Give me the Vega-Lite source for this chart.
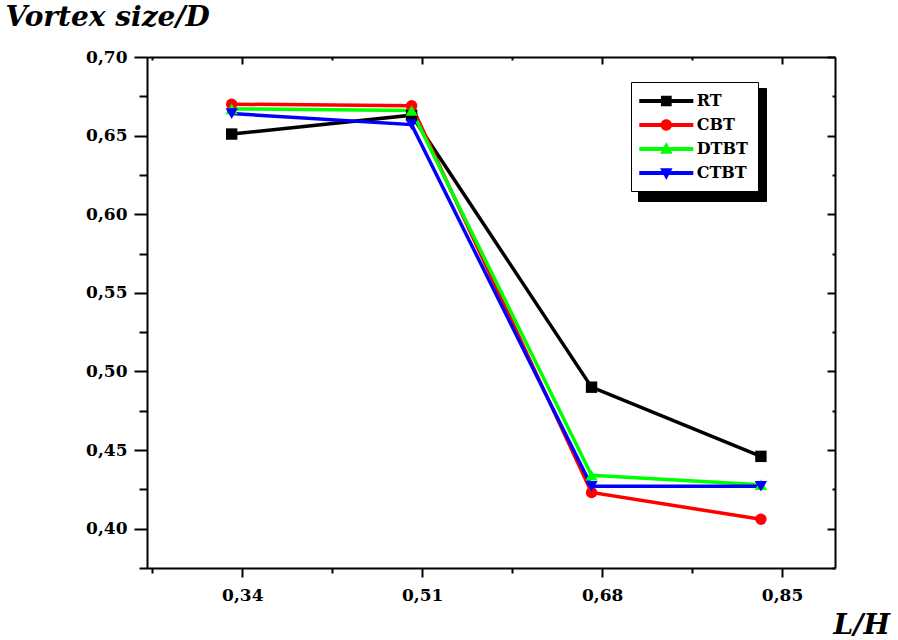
{
  "$schema": "https://vega.github.io/schema/vega-lite/v6.json",
  "width": 688,
  "height": 511,
  "autosize": {"type": "none"},
  "padding": {"left": 147, "top": 57, "right": 63, "bottom": 72},
  "background": "white",
  "config": {
    "view": {"stroke": null},
    "axis": {
      "domainColor": "black",
      "domainWidth": 2,
      "tickColor": "black",
      "tickWidth": 2,
      "grid": false,
      "labelFont": "DejaVu Serif",
      "labelFontWeight": "bold",
      "labelFontSize": 17,
      "labelColor": "black",
      "labelOverlap": false
    }
  },
  "data": {
    "values": [
      {"series": "RT", "lh": 0.33, "vs": 0.651},
      {"series": "RT", "lh": 0.50, "vs": 0.663},
      {"series": "RT", "lh": 0.67, "vs": 0.490},
      {"series": "RT", "lh": 0.83, "vs": 0.446},
      {"series": "CBT", "lh": 0.33, "vs": 0.670},
      {"series": "CBT", "lh": 0.50, "vs": 0.669},
      {"series": "CBT", "lh": 0.67, "vs": 0.423},
      {"series": "CBT", "lh": 0.83, "vs": 0.406},
      {"series": "DTBT", "lh": 0.33, "vs": 0.667},
      {"series": "DTBT", "lh": 0.50, "vs": 0.666},
      {"series": "DTBT", "lh": 0.67, "vs": 0.434},
      {"series": "DTBT", "lh": 0.83, "vs": 0.428},
      {"series": "CTBT", "lh": 0.33, "vs": 0.664},
      {"series": "CTBT", "lh": 0.50, "vs": 0.657},
      {"series": "CTBT", "lh": 0.67, "vs": 0.427},
      {"series": "CTBT", "lh": 0.83, "vs": 0.427}
    ]
  },
  "layer": [
    {
      "mark": {"type": "point", "filled": true, "opacity": 0},
      "encoding": {
        "x": {
          "field": "lh", "type": "quantitative",
          "scale": {"domain": [0.25, 0.9], "nice": false, "zero": false},
          "axis": {
            "orient": "top",
            "values": [0.255, 0.34, 0.425, 0.51, 0.595, 0.68, 0.765, 0.85],
            "labels": false,
            "tickSize": {"condition": {"test": "round(datum.value*1000) % 170 == 0", "value": -7}, "value": -3},
            "title": null
          }
        },
        "y": {
          "field": "vs", "type": "quantitative",
          "scale": {"domain": [0.375, 0.7], "nice": false, "zero": false},
          "axis": {
            "orient": "right",
            "values": [0.375, 0.4, 0.425, 0.45, 0.475, 0.5, 0.525, 0.55, 0.575, 0.6, 0.625, 0.65, 0.675, 0.7],
            "labels": false,
            "tickSize": {"condition": {"test": "round(datum.value*1000) % 50 == 0", "value": -8}, "value": -3},
            "title": null
          }
        },
        "color": {
          "field": "series", "type": "nominal",
          "scale": {"domain": ["RT", "CBT", "DTBT", "CTBT"], "range": ["#000000", "#ff0000", "#00ff00", "#0000ff"]},
          "legend": {
            "title": null,
            "orient": "none",
            "legendX": 484,
            "legendY": 25,
            "zindex": 2,
            "strokeColor": "black",
            "fillColor": "white",
            "padding": 10,
            "rowPadding": 7,
            "symbolSize": 300,
            "symbolOffset": 16.3,
            "labelOffset": 21.4,
            "symbolOpacity": 1,
            "symbolStrokeWidth": 0,
            "labelFont": "DejaVu Serif",
            "labelFontWeight": "bold",
            "labelFontSize": 16,
            "labelColor": "black"
          }
        },
        "shape": {
          "field": "series", "type": "nominal",
          "scale": {
            "domain": ["RT", "CBT", "DTBT", "CTBT"],
            "range": [
              "M-3.12,-0.22H3.12V0.22H-3.12Z M-0.62,-0.62H0.62V0.62H-0.62Z",
              "M-3.12,-0.22H3.12V0.22H-3.12Z M-0.66,0A0.66,0.66,0,1,1,0.66,0A0.66,0.66,0,1,1,-0.66,0Z",
              "M-3.12,-0.22H3.12V0.22H-3.12Z M0,-0.8L0.72,0.55L-0.72,0.55Z",
              "M-3.12,-0.22H3.12V0.22H-3.12Z M-0.72,-0.55L0.72,-0.55L0,0.8Z"
            ]
          },
          "legend": {
            "title": null,
            "orient": "none",
            "legendX": 484,
            "legendY": 25,
            "zindex": 2,
            "strokeColor": "black",
            "fillColor": "white",
            "padding": 10,
            "rowPadding": 7,
            "symbolSize": 300,
            "symbolOffset": 16.3,
            "labelOffset": 21.4,
            "symbolOpacity": 1,
            "symbolStrokeWidth": 0,
            "labelFont": "DejaVu Serif",
            "labelFontWeight": "bold",
            "labelFontSize": 16,
            "labelColor": "black"
          }
        },
        "size": {
          "field": "series", "type": "nominal",
          "scale": {"domain": ["CTBT", "DTBT", "CBT", "RT"], "range": [300, 300]},
          "legend": {
            "title": null,
            "orient": "none",
            "legendX": 491,
            "legendY": 31,
            "zindex": 1,
            "strokeColor": "black",
            "fillColor": "black",
            "padding": 10,
            "rowPadding": 7,
            "symbolOffset": 16.3,
            "labelOffset": 73.5,
            "labelExpr": "''",
            "symbolOpacity": 0,
            "symbolStrokeWidth": 0,
            "labelFont": "DejaVu Serif",
            "labelFontWeight": "bold",
            "labelFontSize": 16,
            "labelColor": "black"
          }
        }
      }
    },
    {
      "mark": {"type": "line", "strokeWidth": 3.5},
      "encoding": {
        "x": {
          "field": "lh", "type": "quantitative",
          "axis": {
            "orient": "bottom",
            "values": [0.255, 0.34, 0.425, 0.51, 0.595, 0.68, 0.765, 0.85],
            "labelExpr": "round(datum.value*1000) % 170 == 0 ? replace(format(datum.value, '.2f'), '.', ',') : ''",
            "tickSize": {"condition": {"test": "round(datum.value*1000) % 170 == 0", "value": 9}, "value": 5},
            "labelPadding": 10,
            "title": "L/H",
            "titleX": 686,
            "titleY": 65,
            "titleAlign": "left",
            "titleBaseline": "alphabetic",
            "titleFont": "DejaVu Serif",
            "titleFontSize": 28,
            "titleFontStyle": "italic",
            "titleFontWeight": "bold",
            "titleColor": "black"
          }
        },
        "y": {
          "field": "vs", "type": "quantitative",
          "axis": {
            "orient": "left",
            "values": [0.375, 0.4, 0.425, 0.45, 0.475, 0.5, 0.525, 0.55, 0.575, 0.6, 0.625, 0.65, 0.675, 0.7],
            "labelExpr": "round(datum.value*1000) % 50 == 0 ? replace(format(datum.value, '.2f'), '.', ',') : ''",
            "tickSize": {"condition": {"test": "round(datum.value*1000) % 50 == 0", "value": 13}, "value": 8},
            "labelPadding": 7,
            "title": "Vortex size/D",
            "titleAngle": 0,
            "titleX": -142,
            "titleY": -32,
            "titleAlign": "left",
            "titleBaseline": "alphabetic",
            "titleFont": "DejaVu Serif",
            "titleFontSize": 28,
            "titleFontStyle": "italic",
            "titleFontWeight": "bold",
            "titleColor": "black"
          }
        },
        "color": {"field": "series", "type": "nominal", "legend": null}
      }
    },
    {
      "transform": [{"filter": {"field": "series", "equal": "RT"}}],
      "mark": {"type": "point", "shape": "square", "filled": true, "opacity": 1, "size": 130},
      "encoding": {
        "x": {"field": "lh", "type": "quantitative", "axis": null},
        "y": {"field": "vs", "type": "quantitative", "axis": null},
        "color": {"field": "series", "type": "nominal", "legend": null}
      }
    },
    {
      "transform": [{"filter": {"field": "series", "equal": "CBT"}}],
      "mark": {"type": "point", "shape": "circle", "filled": true, "opacity": 1, "size": 130},
      "encoding": {
        "x": {"field": "lh", "type": "quantitative", "axis": null},
        "y": {"field": "vs", "type": "quantitative", "axis": null},
        "color": {"field": "series", "type": "nominal", "legend": null}
      }
    },
    {
      "transform": [{"filter": {"field": "series", "equal": "DTBT"}}],
      "mark": {"type": "point", "shape": "triangle-up", "filled": true, "opacity": 1, "size": 150},
      "encoding": {
        "x": {"field": "lh", "type": "quantitative", "axis": null},
        "y": {"field": "vs", "type": "quantitative", "axis": null},
        "color": {"field": "series", "type": "nominal", "legend": null}
      }
    },
    {
      "transform": [{"filter": {"field": "series", "equal": "CTBT"}}],
      "mark": {"type": "point", "shape": "triangle-down", "filled": true, "opacity": 1, "size": 150},
      "encoding": {
        "x": {"field": "lh", "type": "quantitative", "axis": null},
        "y": {"field": "vs", "type": "quantitative", "axis": null},
        "color": {"field": "series", "type": "nominal", "legend": null}
      }
    }
  ],
  "resolve": {"axis": {"x": "independent", "y": "independent"}}
}
